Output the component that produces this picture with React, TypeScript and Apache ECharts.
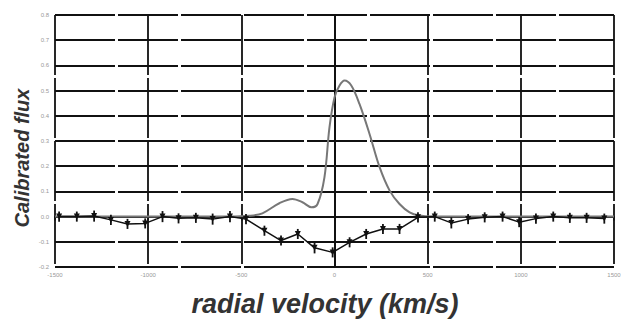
import React, { useEffect, useRef } from "react";
import * as echarts from "echarts";

const emissionVel = [-1500, -1000, -565, -457, -387, -296, -226, -172, -124, -91, -54, -27, 0, 27, 54, 90, 134, 188, 242, 296, 349, 403, 457, 520, 1000, 1500];
const emissionFlux = [0, 0, 0, 0.003, 0.013, 0.053, 0.07, 0.057, 0.037, 0.05, 0.156, 0.354, 0.473, 0.52, 0.54, 0.52, 0.447, 0.328, 0.196, 0.103, 0.05, 0.017, 0.004, 0, 0, 0];

const absVel = [-1478, -1383, -1290, -1200, -1111, -1016, -923, -837, -744, -654, -561, -475, -376, -287, -197, -107, -10, 81, 170, 260, 349, 448, 538, 627, 717, 806, 902, 991, 1081, 1174, 1263, 1353, 1448];
const absFlux = [0, 0, 0.002, -0.013, -0.029, -0.027, 0, -0.007, -0.005, -0.01, 0, -0.01, -0.056, -0.095, -0.069, -0.124, -0.142, -0.102, -0.069, -0.049, -0.049, -0.003, 0, -0.025, -0.01, -0.003, 0, -0.022, -0.008, 0, -0.005, -0.005, -0.008];
const absErr = [0.02, 0.02, 0.022, 0.02, 0.02, 0.02, 0.022, 0.02, 0.02, 0.022, 0.022, 0.02, 0.02, 0.02, 0.02, 0.022, 0.02, 0.02, 0.02, 0.02, 0.02, 0.02, 0.02, 0.022, 0.02, 0.02, 0.02, 0.02, 0.02, 0.02, 0.02, 0.02, 0.02];

const yTicks = ["-0.2", "-0.1", "0.0", "0.1", "0.2", "0.3", "0.4", "0.5", "0.6", "0.7", "0.8"];
const xTicks = ["-1500", "-1000", "-500", "0", "500", "1000", "1500"];

export default function App() {
  const ref = useRef<HTMLDivElement>(null);
  useEffect(() => {
    if (!ref.current) return;
    const chart = echarts.init(ref.current, null, { renderer: "svg" });
    const gridLine = { show: true, lineStyle: { color: "#111", width: 1.8, type: [60, 3] as any } };
    chart.setOption({
      animation: false,
      backgroundColor: "#fff",
      grid: { left: 55, right: 10, top: 15, bottom: 60 },
      xAxis: {
        type: "value",
        min: -1500,
        max: 1500,
        interval: 500,
        axisLine: { show: true, lineStyle: { color: "#111", width: 2 } },
        axisTick: { show: true, length: 4, lineStyle: { color: "#111", width: 1.5 } },
        axisLabel: {
          fontSize: 6,
          color: "#999",
          margin: 5,
          fontFamily: "Liberation Sans",
          formatter: (v: number) => xTicks[Math.round((v + 1500) / 500)] ?? "",
        },
        splitLine: gridLine,
      },
      yAxis: {
        type: "value",
        min: -0.2,
        max: 0.8,
        interval: 0.1,
        axisLine: { show: true, lineStyle: { color: "#111", width: 2 } },
        axisTick: { show: true, length: 4, lineStyle: { color: "#111", width: 1.5 } },
        axisLabel: {
          fontSize: 6,
          color: "#999",
          margin: 6,
          fontFamily: "Liberation Sans",
          formatter: (v: number) => yTicks[Math.round((v + 0.2) / 0.1)] ?? "",
        },
        splitLine: gridLine,
      },
      graphic: [
        {
          type: "text",
          x: 22,
          y: 158,
          rotation: Math.PI / 2,
          style: {
            text: "Calibrated flux",
            font: "italic bold 20px 'Liberation Sans'",
            fill: "#333",
            align: "center",
            verticalAlign: "middle",
          },
        },
        {
          type: "text",
          x: 325,
          y: 304,
          style: {
            text: "radial velocity (km/s)",
            font: "italic bold 27px 'Liberation Sans'",
            fill: "#333",
            align: "center",
            verticalAlign: "middle",
          },
        },
      ],
      series: [
        {
          type: "line",
          data: emissionVel.map((v, i) => [v, emissionFlux[i]]),
          smooth: 0.35,
          showSymbol: false,
          lineStyle: { color: "#777", width: 2 },
          z: 3,
        },
        {
          type: "line",
          data: absVel.map((v, i) => [v, absFlux[i]]),
          showSymbol: true,
          symbol: "triangle",
          symbolRotate: 180,
          symbolSize: [6, 6],
          itemStyle: { color: "#111" },
          lineStyle: { color: "#111", width: 1.5 },
          z: 4,
        },
        {
          type: "custom",
          data: absVel.map((v, i) => [v, absFlux[i], absErr[i]]),
          renderItem: (params: any, api: any) => {
            const x = api.value(0);
            const y = api.value(1);
            const e = api.value(2);
            const p1 = api.coord([x, y + e]);
            const p2 = api.coord([x, y - e]);
            return {
              type: "line",
              shape: { x1: p1[0], y1: p1[1], x2: p2[0], y2: p2[1] },
              style: { stroke: "#111", lineWidth: 1.8 },
            };
          },
          z: 5,
        },
      ],
    });
    return () => chart.dispose();
  }, []);
  return <div ref={ref} style={{ position: "fixed", left: 0, top: 0, width: 624, height: 327 }} />;
}
